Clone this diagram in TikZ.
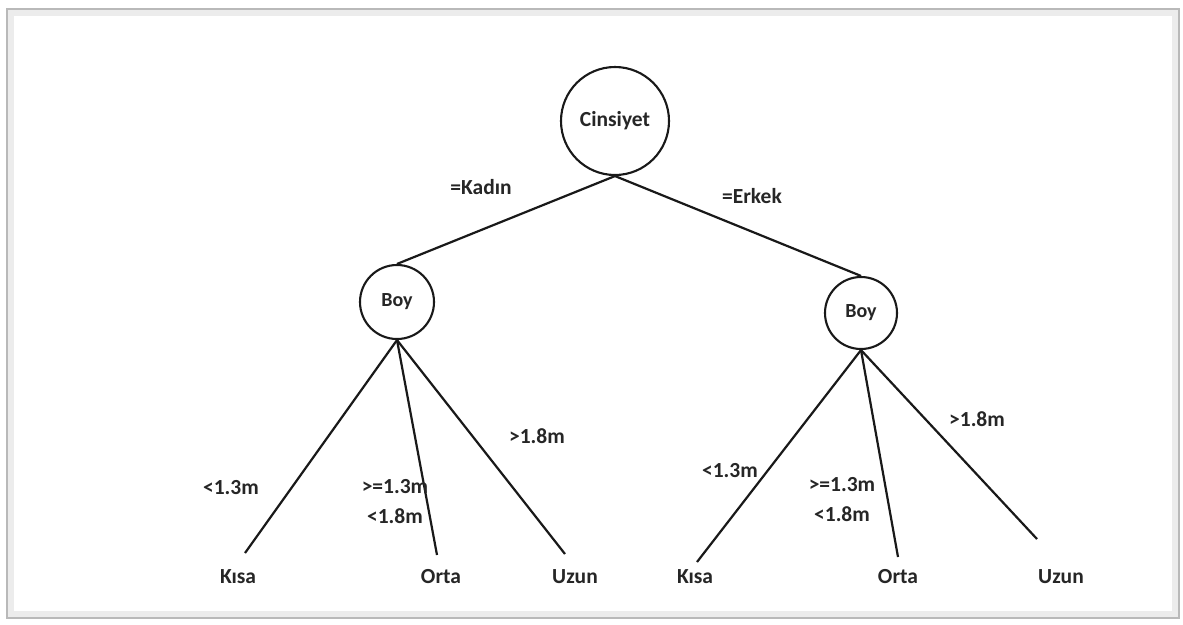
\documentclass[tikz,border=0pt]{standalone}
\usepackage{fontspec}
\setmainfont{Carlito}
\begin{document}
\begin{tikzpicture}[x=1pt,y=-1pt,
  branch/.style={draw=black!90, line width=2.2pt},
  testnode/.style={circle, draw=black!90, line width=2.1pt, inner sep=0pt},
  lbl/.style={inner sep=0pt, font=\fontsize{21.5}{26}\selectfont\bfseries, text=black!85},
  leaf/.style={lbl}]
\useasboundingbox (0,0) rectangle (1183,624);
% framed panel with a soft edge
\fill[white] (7,9) rectangle (1179,618);
\draw[gray!15, line width=6pt] (11,13) rectangle (1175,614);
\draw[gray!55, line width=1.8pt] (7,9) rectangle (1179,618);

% decision nodes
\node[testnode, minimum size=108pt, font=\fontsize{21.5}{24}\selectfont\bfseries, text=black!85] (root) at (615,121) {Cinsiyet};
\node[testnode, minimum size=74pt, font=\fontsize{20}{24}\selectfont\bfseries, text=black!85] (boyL) at (397,302) {Boy};
\node[testnode, minimum size=72pt, font=\fontsize{20}{24}\selectfont\bfseries, text=black!85] (boyR) at (861,313) {Boy};

\draw[branch] (root.south) -- (boyL.north);
\draw[branch] (root.south) -- (boyR.north);
\node[lbl] (kadin) at (481,187) {=Kadın};
\node[lbl] (erkek) at (752,196) {=Erkek};

% line ends above the leaves
\coordinate (eLk) at (245,553);
\coordinate (eLo) at (437,555);
\coordinate (eLu) at (565,554);
\coordinate (eRk) at (697,562);
\coordinate (eRo) at (898,557);
\coordinate (eRu) at (1037,539);

\draw[branch] (boyL.south) -- (eLk);
\draw[branch] (boyL.south) -- (eLo);
\draw[branch] (boyL.south) -- (eLu);
\draw[branch] (boyR.south) -- (eRk);
\draw[branch] (boyR.south) -- (eRo);
\draw[branch] (boyR.south) -- (eRu);

% leaves
\node[leaf] (kisaL) at (238,577) {Kısa};
\node[leaf] (ortaL) at (441,577) {Orta};
\node[leaf] (uzunL) at (575,577) {Uzun};
\node[leaf] (kisaR) at (695,577) {Kısa};
\node[leaf] (ortaR) at (898,577) {Orta};
\node[leaf] (uzunR) at (1061,577) {Uzun};

% branch conditions
\node[lbl] (ltL) at (231,488) {<1.3m};
\node[lbl] (geL) at (395,487) {>=1.3m};
\node[lbl] (lt2L) at (395,516) {<1.8m};
\node[lbl] (gtL) at (537,436) {>1.8m};
\node[lbl] (ltR) at (730,471) {<1.3m};
\node[lbl] (geR) at (842,485) {>=1.3m};
\node[lbl] (lt2R) at (842,514) {<1.8m};
\node[lbl] (gtR) at (977,419) {>1.8m};
\end{tikzpicture}
\end{document}
